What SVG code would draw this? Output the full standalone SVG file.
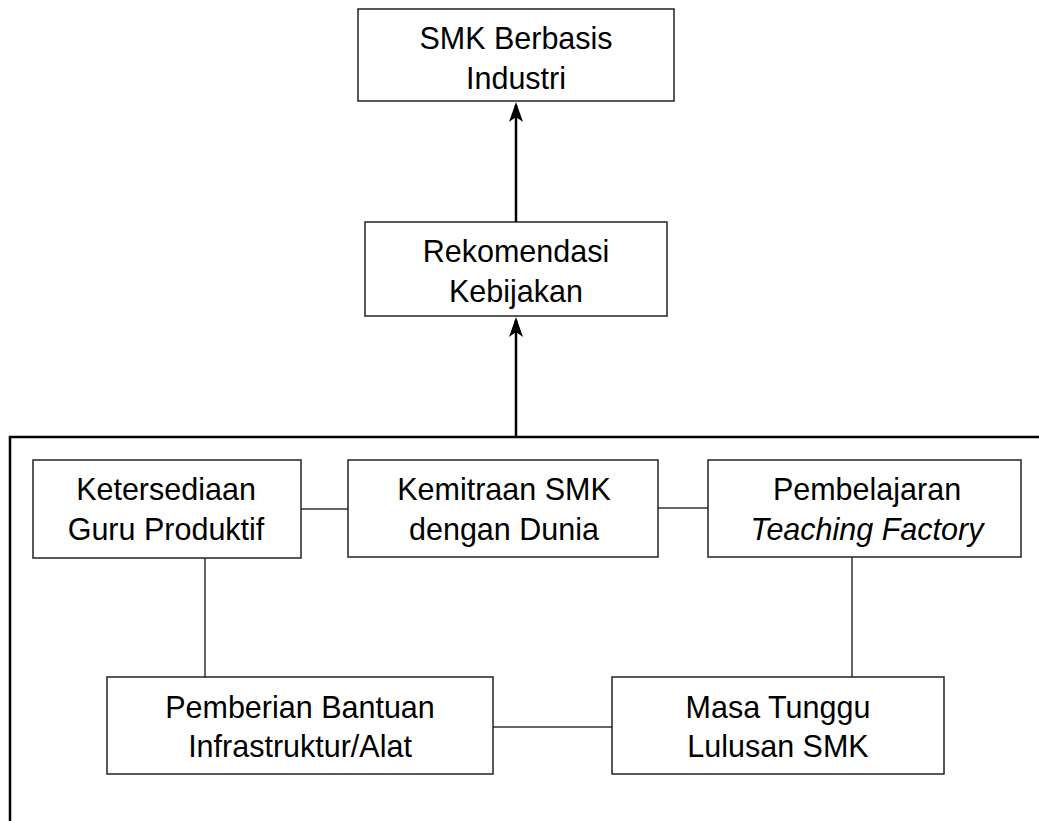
<svg xmlns="http://www.w3.org/2000/svg" width="1039" height="821" viewBox="0 0 1039 821">
<style>
.box{fill:#fff;stroke:#222;stroke-width:1.5}
.t{font-family:"Liberation Sans",Arial,sans-serif;font-size:30.5px;fill:#000;text-anchor:middle}
.it{font-style:italic}
.c{stroke:#333;stroke-width:1.5;fill:none}
.frame{stroke:#000;stroke-width:2.5;fill:none}
.arr{stroke:#000;stroke-width:2.5;fill:none}
.head{fill:#000}
</style>
<g id="connectors">
<path class="frame" d="M10,821 L10,437 L1039,437"/>
<line class="arr" x1="516" y1="437" x2="516" y2="320"/>
<path class="head" d="M516,317 L509,337 L516,332 L523,337 Z"/>
<line class="arr" x1="516" y1="222" x2="516" y2="105"/>
<path class="head" d="M516,102 L509,122 L516,117 L523,122 Z"/>
<line class="c" x1="301" y1="509" x2="348" y2="509"/>
<line class="c" x1="658" y1="508" x2="708" y2="508"/>
<line class="c" x1="205" y1="558" x2="205" y2="677"/>
<line class="c" x1="852" y1="557" x2="852" y2="677"/>
<line class="c" x1="493" y1="727" x2="612" y2="727"/>
</g>
<g id="smk">
<rect class="box" x="358" y="9" width="316" height="92"/>
<text class="t" x="516" y="49">SMK Berbasis</text>
<text class="t" x="516" y="89">Industri</text>
</g>
<g id="rekomendasi">
<rect class="box" x="365" y="222" width="302" height="94"/>
<text class="t" x="516" y="262">Rekomendasi</text>
<text class="t" x="516" y="302">Kebijakan</text>
</g>
<g id="ketersediaan">
<rect class="box" x="33" y="460" width="268" height="98"/>
<text class="t" x="166" y="500">Ketersediaan</text>
<text class="t" x="166" y="540">Guru Produktif</text>
</g>
<g id="kemitraan">
<rect class="box" x="348" y="460" width="310" height="97"/>
<text class="t" x="504" y="500">Kemitraan SMK</text>
<text class="t" x="504" y="540">dengan Dunia</text>
</g>
<g id="pembelajaran">
<rect class="box" x="708" y="460" width="313" height="97"/>
<text class="t" x="867" y="500">Pembelajaran</text>
<text class="t it" x="867" y="540">Teaching Factory</text>
</g>
<g id="pemberian">
<rect class="box" x="107" y="677" width="386" height="97"/>
<text class="t" x="300" y="718">Pemberian Bantuan</text>
<text class="t" x="300" y="757">Infrastruktur/Alat</text>
</g>
<g id="masa">
<rect class="box" x="612" y="677" width="332" height="97"/>
<text class="t" x="778" y="718">Masa Tunggu</text>
<text class="t" x="778" y="757">Lulusan SMK</text>
</g>
</svg>
